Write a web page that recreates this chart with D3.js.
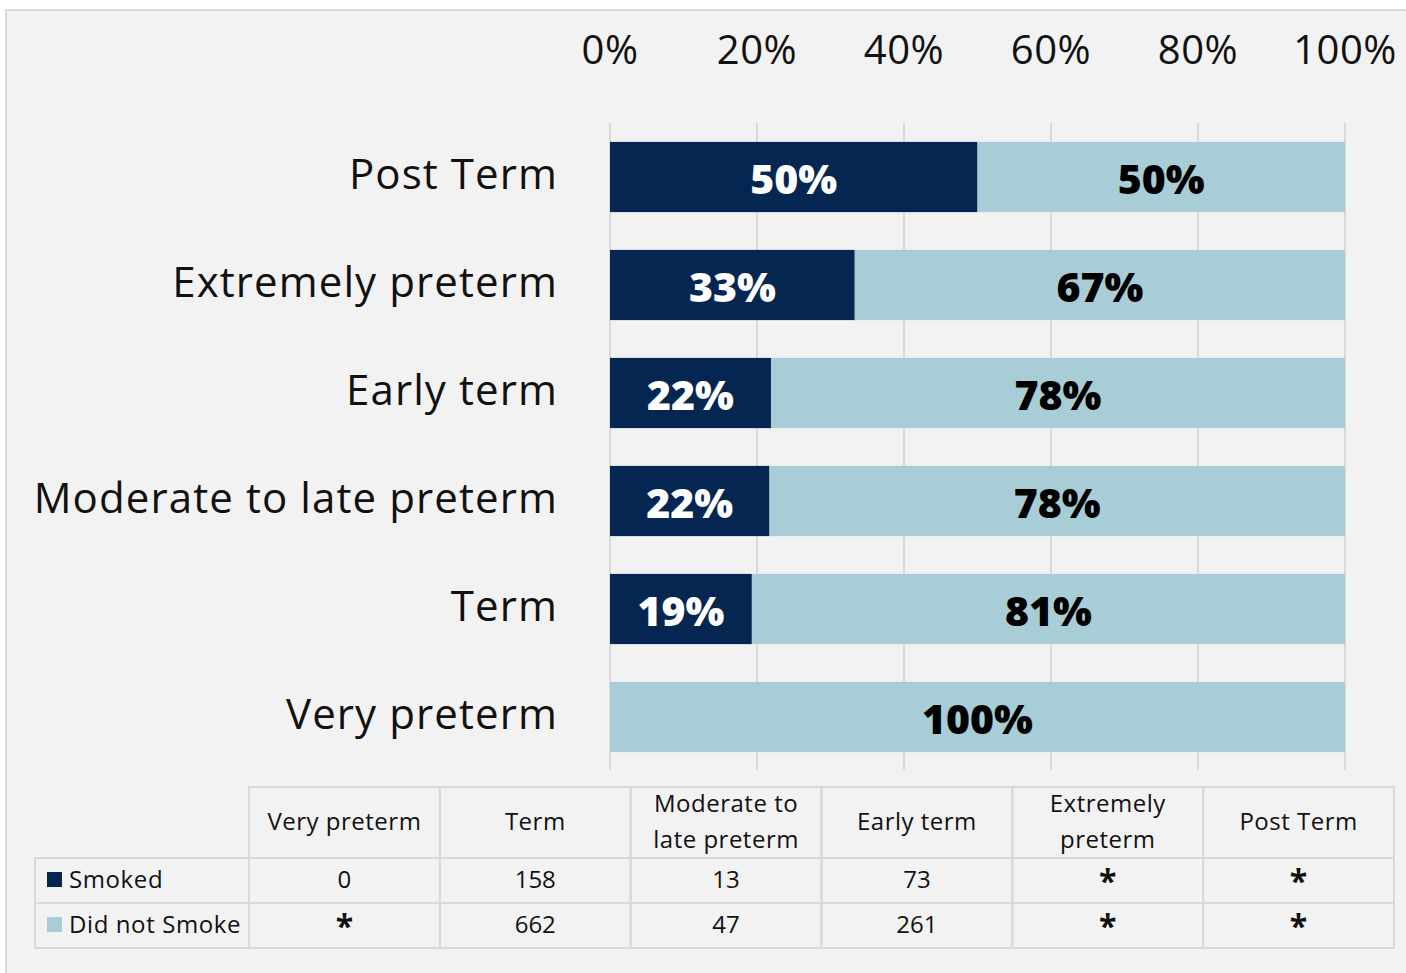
<!DOCTYPE html>
<html><head><meta charset="utf-8">
<script src="https://cdn.jsdelivr.net/npm/d3@7"></script>
<style>
html,body{margin:0;padding:0;background:#fff;}
svg{display:block;font-family:"Open Sans","Noto Sans",sans-serif;}
</style></head>
<body><svg id="chart" width="1406" height="973"></svg>
<script>
// ---- data ----
const categories = ["Post Term","Extremely preterm","Early term","Moderate to late preterm","Term","Very preterm"];
const smokedPct = [50, 33.3, 21.9, 21.7, 19.3, 0];
const notSmokedPct = [50, 66.7, 78.1, 78.3, 80.7, 100];
const smokedLabels = ["50%","33%","22%","22%","19%",""];
const notSmokedLabels = ["50%","67%","78%","78%","81%","100%"];
const tickValues = [0,20,40,60,80,100];
const tickLabels = ["0%","20%","40%","60%","80%","100%"];
const seriesNames = ["Smoked","Did not Smoke"];
const tableColumns = ["Very preterm","Term","Moderate to late preterm","Early term","Extremely preterm","Post Term"];
const tableHeaderLines = [["Very preterm"],["Term"],["Moderate to","late preterm"],["Early term"],["Extremely","preterm"],["Post Term"]];
const smokedCounts = ["0","158","13","73","*","*"];
const notSmokedCounts = ["*","662","47","261","*","*"];
const colors = ["#042651","#a8cdd6"];

const svg = d3.select("#chart");
svg.append("rect").attr("x",6).attr("y",10).attr("width",1420).attr("height",980)
  .attr("fill","#f2f2f2").attr("stroke","#d9d9d9").attr("stroke-width",2);

const x = d3.scaleLinear().domain([0,100]).range([610,1345]);
const y = d3.scaleBand().domain(categories).range([123,771]).paddingInner(0.35).paddingOuter(0.175);

// gridlines
svg.append("g").selectAll("line").data(tickValues).join("line")
  .attr("x1",d=>x(d)).attr("x2",d=>x(d)).attr("y1",123).attr("y2",770)
  .attr("stroke","#d9d9d9").attr("stroke-width",2);

// top axis labels
svg.append("g").selectAll("text").data(tickValues).join("text")
  .attr("x",d=>x(d)).attr("y",64).attr("text-anchor","middle")
  .attr("font-size",40).attr("letter-spacing",0.5).attr("fill","#111").text((d,i)=>tickLabels[i]);

// category labels
svg.append("g").selectAll("text").data(categories).join("text")
  .attr("x",558).attr("y",d=>y(d)+y.bandwidth()/2-3).attr("dy","0.35em")
  .attr("text-anchor","end").attr("font-size",42).attr("letter-spacing",1.1).attr("fill","#111").text(d=>d);

// bars
const rows = categories.map((c,i)=>({c, s:smokedPct[i], n:notSmokedPct[i], sl:smokedLabels[i], nl:notSmokedLabels[i]}));
const g = svg.append("g");
g.selectAll("rect.s").data(rows).join("rect").attr("class","s")
  .attr("x",x(0)).attr("y",d=>y(d.c)).attr("height",y.bandwidth())
  .attr("width",d=>x(d.s)-x(0)).attr("fill",colors[0]);
g.selectAll("rect.n").data(rows).join("rect").attr("class","n")
  .attr("x",d=>x(d.s)).attr("y",d=>y(d.c)).attr("height",y.bandwidth())
  .attr("width",d=>x(d.s+d.n)-x(d.s)).attr("fill",colors[1]);
g.selectAll("text.s").data(rows.filter(d=>d.s>0)).join("text").attr("class","s")
  .attr("x",d=>(x(0)+x(d.s))/2).attr("y",d=>y(d.c)+y.bandwidth()/2+2).attr("dy","0.36em")
  .attr("text-anchor","middle").attr("font-size",41).attr("font-weight",800).attr("fill","#fff").text(d=>d.sl);
g.selectAll("text.n").data(rows).join("text").attr("class","n")
  .attr("x",d=>(x(d.s)+x(d.s+d.n))/2).attr("y",d=>y(d.c)+y.bandwidth()/2+2).attr("dy","0.36em")
  .attr("text-anchor","middle").attr("font-size",41).attr("font-weight",800).attr("fill","#000").text(d=>d.nl);

// data table
const colX = d3.scaleBand().domain(tableColumns).range([249,1394]);
const tRows = [{name:seriesNames[0], vals:smokedCounts, color:colors[0]},{name:seriesNames[1], vals:notSmokedCounts, color:colors[1]}];
const headTop=787, headBot=858, rowH=45;
const tb = svg.append("g");
const lineCol="#d9d9d9";
tb.selectAll("rect.h").data(tableColumns).join("rect").attr("class","h")
  .attr("x",d=>colX(d)).attr("y",headTop).attr("width",colX.bandwidth()).attr("height",headBot-headTop)
  .attr("fill","none").attr("stroke",lineCol).attr("stroke-width",2);
tableColumns.forEach((c,i)=>{
  const lines = tableHeaderLines[i];
  const cy=(headTop+headBot)/2-1;
  lines.forEach((t,j)=>{
    tb.append("text").attr("x",colX(c)+colX.bandwidth()/2)
      .attr("y",cy+(j-(lines.length-1)/2)*36).attr("dy","0.35em")
      .attr("text-anchor","middle").attr("font-size",24).attr("letter-spacing",0.5).attr("fill","#111").text(t);
  });
});
tRows.forEach((r,ri)=>{
  const top=headBot+ri*rowH;
  tb.append("rect").attr("x",35).attr("y",top).attr("width",249-35).attr("height",rowH)
    .attr("fill","none").attr("stroke",lineCol).attr("stroke-width",2);
  tb.append("rect").attr("x",47).attr("y",top+14).attr("width",15).attr("height",15).attr("fill",r.color);
  tb.append("text").attr("x",69).attr("y",top+rowH/2-1).attr("dy","0.35em")
    .attr("font-size",24).attr("letter-spacing",0.6).attr("fill","#111").text(r.name);
  tableColumns.forEach((c,ci)=>{
    tb.append("rect").attr("x",colX(c)).attr("y",top).attr("width",colX.bandwidth()).attr("height",rowH)
      .attr("fill","none").attr("stroke",lineCol).attr("stroke-width",2);
    const v=r.vals[ci];
    const isStar = v==="*";
    tb.append("text").attr("x",colX(c)+colX.bandwidth()/2)
      .attr("y",top+rowH/2 + (isStar?12:-1)).attr("dy",isStar?"0":"0.35em")
      .attr("text-anchor","middle").attr("font-size",isStar?32:24).attr("font-weight",isStar?700:400)
      .attr("fill","#111").text(v);
  });
});
</script></body></html>
